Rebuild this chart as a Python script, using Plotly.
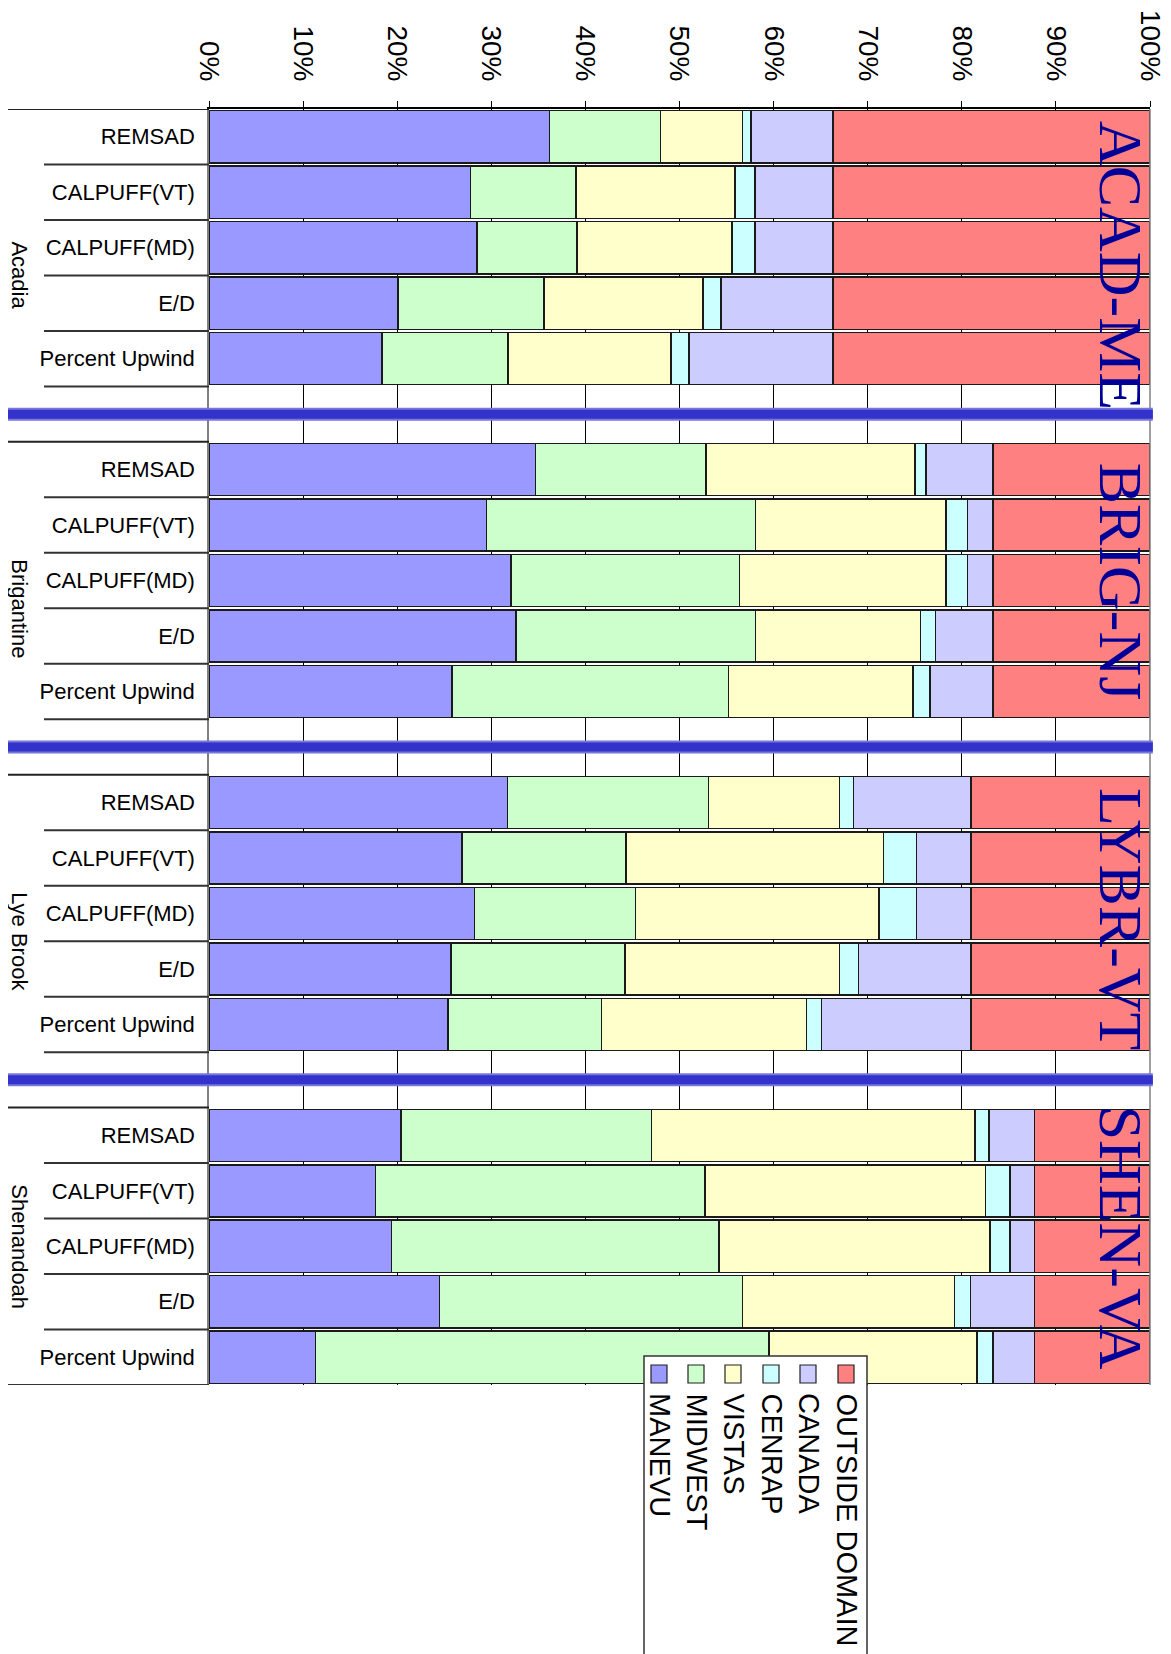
import plotly.graph_objects as go

# ---------------- data ----------------
regions = ["Acadia", "Brigantine", "Lye Brook", "Shenandoah"]
site_codes = ["ACAD-ME", "BRIG-NJ", "LYBR-VT", "SHEN-VA"]
methods = ["REMSAD", "CALPUFF(VT)", "CALPUFF(MD)", "E/D", "Percent Upwind"]
series_names = ["MANEVU", "MIDWEST", "VISTAS", "CENRAP", "CANADA", "OUTSIDE DOMAIN"]
tick_values = [0, 10, 20, 30, 40, 50, 60, 70, 80, 90, 100]
tick_labels = ["0%", "10%", "20%", "30%", "40%", "50%", "60%", "70%", "80%", "90%", "100%"]

# values in percent, ordered region by region (Acadia, Brigantine, Lye Brook, Shenandoah),
# method by method inside each region
MANEVU = [36.2, 27.8, 28.5, 20.1, 18.4,
          34.7, 29.5, 32.1, 32.6, 25.8,
          31.7, 26.9, 28.2, 25.7, 25.4,
          20.4, 17.7, 19.4, 24.5, 11.3]
MIDWEST = [11.8, 11.2, 10.6, 15.5, 13.4,
           18.1, 28.6, 24.3, 25.5, 29.4,
           21.4, 17.4, 17.1, 18.5, 16.3,
           26.6, 35.0, 34.8, 32.2, 48.2]
VISTAS = [8.7, 16.9, 16.5, 16.9, 17.3,
          22.2, 20.2, 21.9, 17.5, 19.6,
          13.9, 27.4, 25.9, 22.8, 21.8,
          34.4, 29.8, 28.8, 22.5, 22.1]
CENRAP = [0.9, 2.1, 2.4, 1.9, 1.9,
          1.2, 2.3, 2.3, 1.6, 1.8,
          1.5, 3.5, 4.0, 2.0, 1.6,
          1.5, 2.6, 2.1, 1.7, 1.7]
CANADA = [8.7, 8.3, 8.3, 11.9, 15.3,
          7.1, 2.7, 2.7, 6.1, 6.7,
          12.5, 5.8, 5.8, 12.0, 15.9,
          4.8, 2.6, 2.6, 6.8, 4.4]
OUTSIDE_DOMAIN = [33.7, 33.7, 33.7, 33.7, 33.7,
                  16.7, 16.7, 16.7, 16.7, 16.7,
                  19.0, 19.0, 19.0, 19.0, 19.0,
                  12.3, 12.3, 12.3, 12.3, 12.3]

series_values = [MANEVU, MIDWEST, VISTAS, CENRAP, CANADA, OUTSIDE_DOMAIN]
colors = ["#9999FF", "#CCFFCC", "#FFFFCC", "#CCFFFF", "#CCCCFF", "#FF8080"]

# ---------------- geometry (page pixels; the page body has an 8px margin) ----------------
OFF = 8
W, H = 1171 - OFF, 1654 - OFF
PLOT_LEFT, PLOT_RIGHT, PLOT_TOP, PLOT_BOTTOM = 209, 1150, 109, 1385  # page coords
L = PLOT_LEFT - OFF
T = PLOT_TOP - OFF
R = W - (PLOT_RIGHT - OFF)
B = H - (PLOT_BOTTOM - OFF)
PW = PLOT_RIGHT - PLOT_LEFT
PH = PLOT_BOTTOM - PLOT_TOP
SLOTS_PER_GROUP = 6  # 5 bars + 1 spacer slot


def px_x(px):
    return (px - PLOT_LEFT) / PW


def px_y(py):
    return (PLOT_BOTTOM - py) / PH


ypos = [g * SLOTS_PER_GROUP + m for g in range(len(regions)) for m in range(len(methods))]
ylabels = [methods[m] for g in range(len(regions)) for m in range(len(methods))]
n_slots = SLOTS_PER_GROUP * len(regions) - 1

fig = go.Figure()
for name, vals, col in zip(series_names, series_values, colors):
    fig.add_trace(go.Bar(
        x=vals, y=ypos, orientation="h", name=name,
        marker=dict(color=col, line=dict(color="#1a1a1a", width=1.5)),
        showlegend=False,
    ))

FONT = "Liberation Sans, Arial, sans-serif"

fig.update_layout(
    width=W, height=H,
    margin=dict(l=L, r=R, t=T, b=B),
    barmode="stack", bargap=0.06,
    paper_bgcolor="white", plot_bgcolor="white",
    font=dict(family=FONT, color="black"),
)
fig.update_xaxes(
    side="top", range=[0, 100], tickvals=tick_values, ticktext=tick_labels,
    tickangle=90, tickfont=dict(size=28, family=FONT, color="black"),
    ticks="outside", ticklen=6, tickcolor="black",
    showgrid=True, gridcolor="black", gridwidth=1,
    showline=True, linecolor="black", linewidth=1.5,
    zeroline=False, ticklabelstandoff=10, automargin=False,
)
fig.update_yaxes(
    range=[n_slots - 0.5, -0.5], tickvals=ypos, ticktext=ylabels,
    tickfont=dict(size=22, family=FONT, color="black"),
    ticks="", showgrid=False, zeroline=False,
    showline=True, linecolor="#808080", linewidth=1.5,
    ticklabelstandoff=8, automargin=False,
)

shapes = []
# right edge of plot area
shapes.append(dict(type="line", xref="paper", yref="paper", x0=1, x1=1, y0=0, y1=1,
                   line=dict(color="#808080", width=1.5)))
# category separator lines on the left
for g in range(len(regions)):
    base = g * SLOTS_PER_GROUP
    shapes.append(dict(type="line", xref="paper", yref="y", x0=px_x(OFF), x1=0,
                       y0=base - 0.5, y1=base - 0.5, line=dict(color="#222", width=2)))
    for m in range(len(methods)):
        last = (g == len(regions) - 1 and m == len(methods) - 1)
        x0 = px_x(OFF) if last else px_x(44)
        shapes.append(dict(type="line", xref="paper", yref="y", x0=x0, x1=0,
                           y0=base + m + 0.5, y1=base + m + 0.5,
                           line=dict(color="#333", width=2)))
# blue group separators
for g in range(len(regions) - 1):
    yy = g * SLOTS_PER_GROUP + 5
    shapes.append(dict(type="line", xref="paper", yref="y", x0=px_x(OFF), x1=1.003,
                       y0=yy, y1=yy, line=dict(color="#7777DD", width=13)))
    shapes.append(dict(type="line", xref="paper", yref="y", x0=px_x(OFF), x1=1.003,
                       y0=yy, y1=yy, line=dict(color="#3333CC", width=9)))

annotations = []
# group labels (rotated), centred on the span of each group incl. its spacer slot
for g, reg in enumerate(regions):
    start = g * SLOTS_PER_GROUP
    end = min(start + SLOTS_PER_GROUP - 1, n_slots - 1)
    annotations.append(dict(text=reg, xref="paper", yref="y", x=px_x(20),
                            y=(start + end) / 2, textangle=90, showarrow=False,
                            xanchor="center", yanchor="middle",
                            font=dict(size=22, family=FONT, color="black")))
# big site codes
code_y = [2.31, 8.02, 14.1, 19.84]
for code, yy in zip(site_codes, code_y):
    annotations.append(dict(text=code, xref="paper", yref="y", x=px_x(1121), y=yy,
                            textangle=90, showarrow=False,
                            xanchor="center", yanchor="middle",
                            font=dict(size=62, family="Liberation Serif, Times New Roman, serif",
                                      color="#000099")))

# custom rotated legend
lg_x0, lg_x1, lg_y0, lg_y1 = 644, 867, 1356, 1700
shapes.append(dict(type="rect", xref="paper", yref="paper",
                   x0=px_x(lg_x0), x1=px_x(lg_x1), y0=px_y(lg_y1), y1=px_y(lg_y0),
                   line=dict(color="#333", width=1.5), fillcolor="white"))
leg_cx = [659, 696, 733, 771, 808, 846]
for name, col, cx in zip(series_names, colors, leg_cx):
    shapes.append(dict(type="rect", xref="paper", yref="paper",
                       x0=px_x(cx - 8), x1=px_x(cx + 8), y0=px_y(1383), y1=px_y(1365),
                       line=dict(color="#222", width=1.2), fillcolor=col))
    annotations.append(dict(text=name, xref="paper", yref="paper", x=px_x(cx + 1),
                            y=px_y(1391), xanchor="center", yanchor="top",
                            textangle=90, showarrow=False,
                            font=dict(size=29, family=FONT, color="black")))

fig.update_layout(shapes=shapes, annotations=annotations)
fig.write_html("out.html")
